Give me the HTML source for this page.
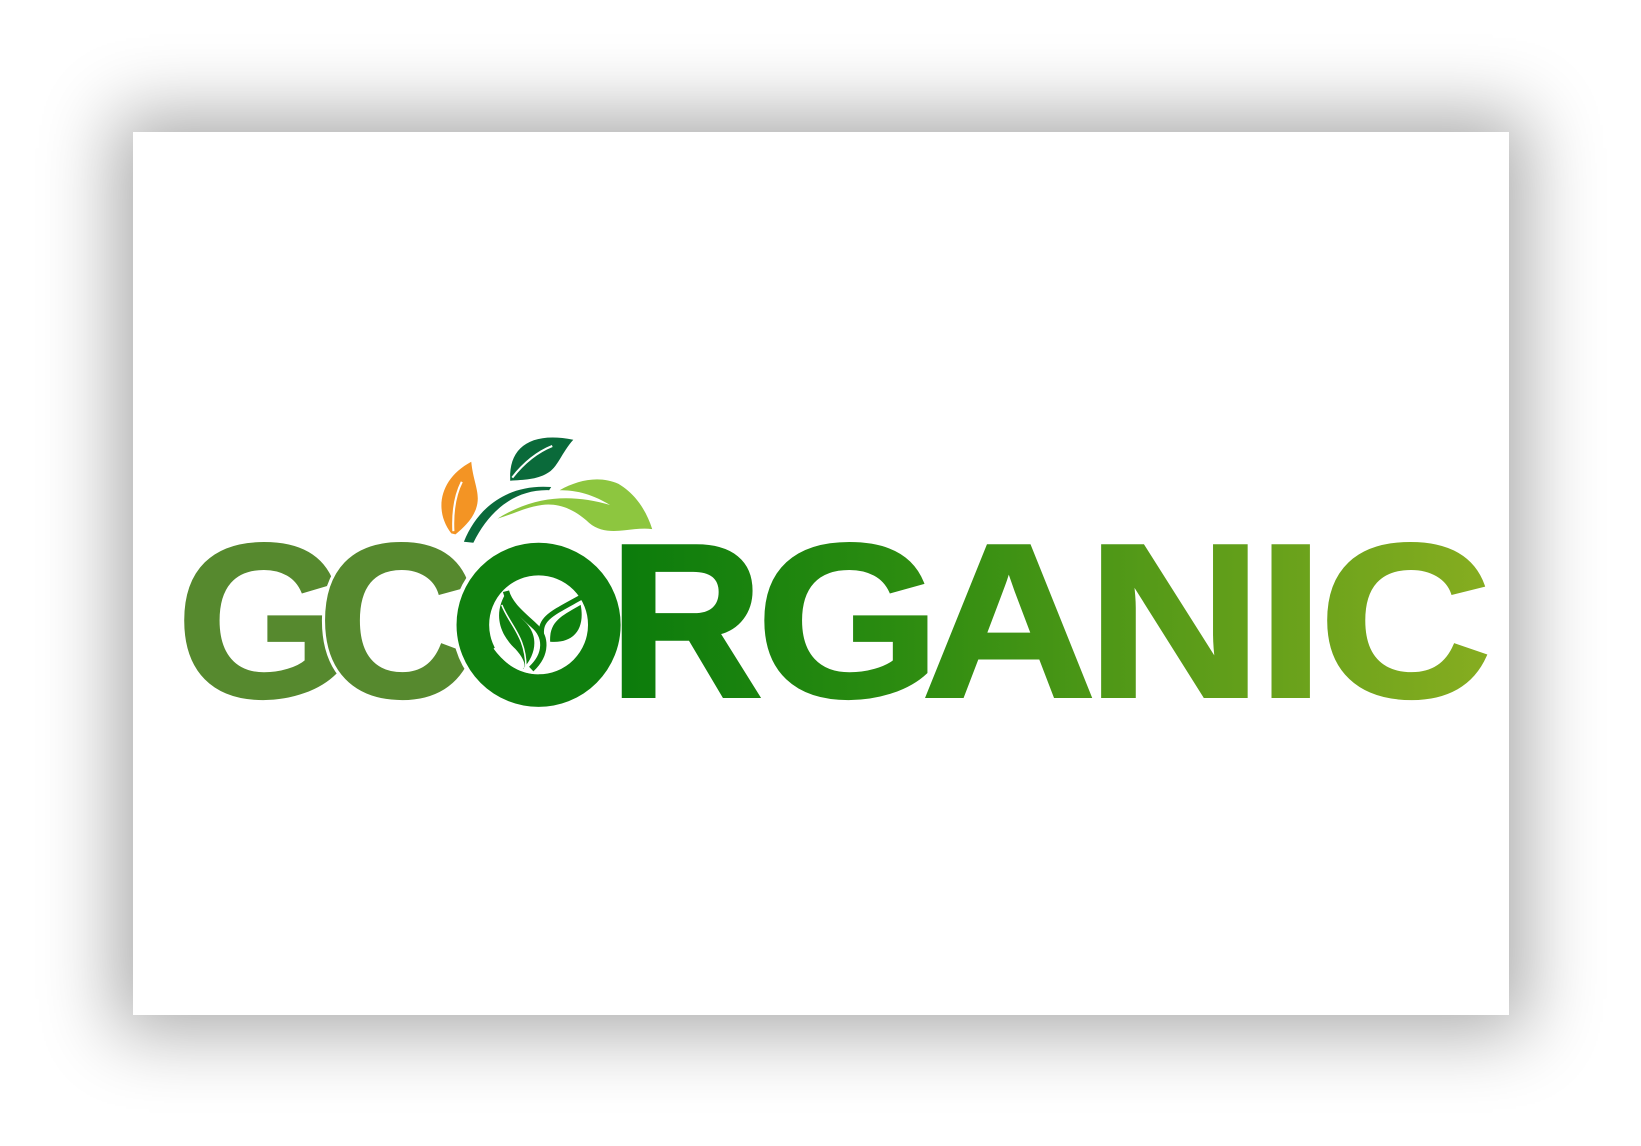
<!DOCTYPE html>
<html><head><meta charset="utf-8">
<style>
html,body{margin:0;padding:0;background:#fff;width:1641px;height:1146px;overflow:hidden;}
#card{position:absolute;left:133px;top:132px;width:1376px;height:883px;background:#fff;box-shadow:0 0 70px 18px rgba(0,0,0,0.33);}
svg{position:absolute;left:0;top:0;}
text{font-family:"Liberation Sans",sans-serif;font-weight:bold;}
</style></head>
<body>
<div id="card"></div>
<svg width="1641" height="1146" viewBox="0 0 1560 1089.4">
<defs>
<linearGradient id="grad" gradientUnits="userSpaceOnUse" x1="596" y1="0" x2="1420" y2="0">
<stop offset="0" stop-color="#0c7c0c"/>
<stop offset="0.3" stop-color="#2a8b10"/>
<stop offset="0.6" stop-color="#559a18"/>
<stop offset="1" stop-color="#87ad20"/>
</linearGradient>
</defs>
<g>
<path d="M429,507 C412,485 418,455 448,439 C450,460 458,470 452,485 C448,495 440,502 433,508 Z" fill="#f39424"/>
<path d="M431,505 C430,485 433,470 439,458" stroke="#fff" stroke-width="2" fill="none"/>
<path d="M485,455 C484,425 505,410 545,418 C534,430 530,445 520,450 C510,456 498,456 485,457 Z" fill="#0a6a3a"/>
<path d="M487,454 C498,440 510,430 525,424" stroke="#fff" stroke-width="2" fill="none"/>
<path d="M441,515 C455,480 485,460 524,463 L522,466 C490,465 465,485 450,516 Z" fill="#0a6a3a"/>
<path d="M473,493 C510,470 545,470 580,480 C560,468 545,466 532,466 C550,456 570,452 588,460 C605,470 615,487 620,503 C600,500 578,512 560,497 C545,483 530,478 515,480 C500,482 487,489 473,493 Z" fill="#8dc63f"/>
</g>
<text x="168" y="662" font-size="208" textLength="164" lengthAdjust="spacingAndGlyphs" fill="#56892e" stroke="#56892e" stroke-width="3">G</text>
<text x="302" y="662" font-size="208" textLength="150" lengthAdjust="spacingAndGlyphs" fill="#fff" stroke="#fff" stroke-width="9">C</text>
<text x="302" y="662" font-size="208" textLength="150" lengthAdjust="spacingAndGlyphs" fill="#56892e" stroke="#56892e" stroke-width="3">C</text>
<g>
<circle cx="512" cy="594" r="82" fill="#fff"/>
<circle cx="512" cy="594" r="62.5" fill="none" stroke="#0f7f0e" stroke-width="31"/>
<path d="M482,562 C470,580 472,600 490,617 C500,628 500,635 497,636 C510,622 512,605 500,592 C488,580 482,572 482,562 Z" fill="#0f7f0e"/>
<path d="M477,575 C485,595 500,605 500,635" stroke="#fff" stroke-width="1.5" fill="none"/>
<path d="M505,636 C520,622 520,605 507,594 C495,583 484,574 481,562" stroke="#0f7f0e" stroke-width="6" fill="none"/>
<path d="M523,610 C522,590 535,585 552,575 C556,595 548,612 523,610 Z" fill="#0f7f0e"/>
<path d="M515,605 C512,588 525,583 552,568" stroke="#0f7f0e" stroke-width="5" fill="none"/>
<path d="M470,616 C480,630 495,640 512,640" stroke="#fff" stroke-width="2" fill="none"/>
</g>
<g fill="url(#grad)" stroke="url(#grad)" stroke-width="3">
<text x="579" y="662" font-size="208" textLength="146" lengthAdjust="spacingAndGlyphs">R</text>
<text x="719" y="662" font-size="208" textLength="175" lengthAdjust="spacingAndGlyphs">G</text>
<text x="876" y="662" font-size="208" textLength="166" lengthAdjust="spacingAndGlyphs">A</text>
<text x="1033" y="662" font-size="208" textLength="167" lengthAdjust="spacingAndGlyphs">N</text>
<text x="1195" y="662" font-size="208" textLength="64" lengthAdjust="spacingAndGlyphs">I</text>
<text x="1254" y="662" font-size="208" textLength="164" lengthAdjust="spacingAndGlyphs">C</text>
</g>
</svg>
</body></html>
